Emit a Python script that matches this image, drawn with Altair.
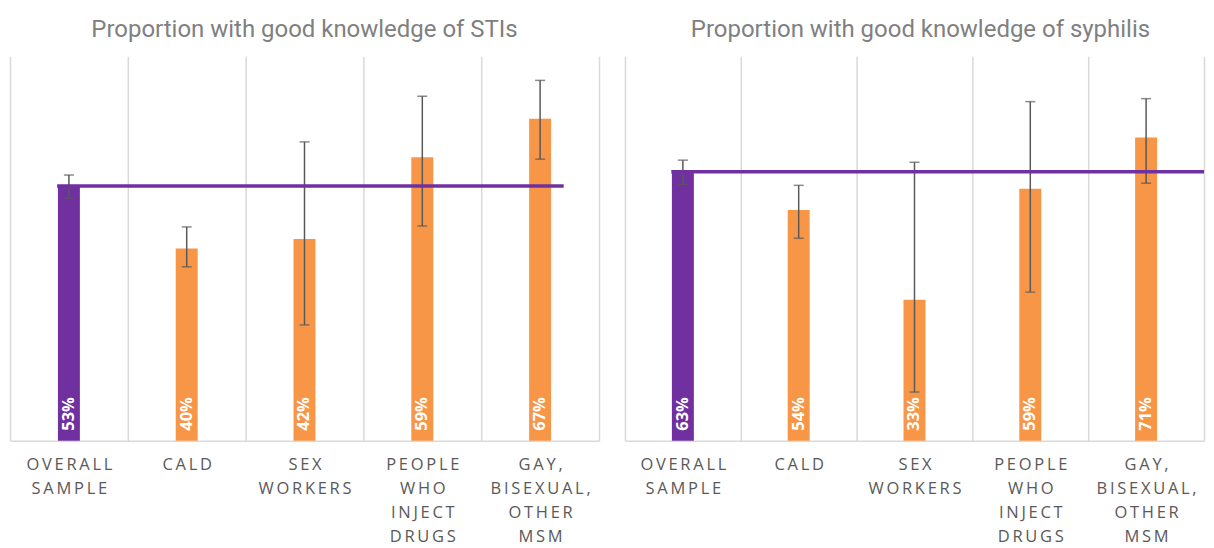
import altair as alt
import pandas as pd

categories = ["OVERALL\nSAMPLE", "CALD", "SEX\nWORKERS",
              "PEOPLE\nWHO\nINJECT\nDRUGS", "GAY,\nBISEXUAL,\nOTHER\nMSM"]
groups = ["overall", "sub", "sub", "sub", "sub"]

sti_values = [0.53, 0.40, 0.42, 0.59, 0.67]
sti_low = [0.505, 0.362, 0.241, 0.447, 0.586]
sti_high = [0.553, 0.445, 0.622, 0.717, 0.750]

syph_values = [0.63, 0.54, 0.33, 0.59, 0.71]
syph_low = [0.600, 0.474, 0.114, 0.348, 0.603]
syph_high = [0.657, 0.598, 0.652, 0.794, 0.801]

titles = ["Proportion with good knowledge of STIs",
          "Proportion with good knowledge of syphilis"]


def spaced(s):
    return "\n".join("\u2009".join(line) for line in s.split("\n"))


labels = [spaced(c) for c in categories]


def panel(values, low, high, title, ymax, width, line_end, title_dx):
    df = pd.DataFrame({"cat": labels, "grp": groups, "value": values,
                       "low": low, "high": high})
    base = alt.Chart(df)
    xenc = alt.X("cat:N", sort=labels, title=None,
                 scale=alt.Scale(paddingInner=0, paddingOuter=0),
                 axis=alt.Axis(labelAngle=0, labelExpr="split(datum.label, '\\n')",
                               labelFont="Open Sans", labelFontSize=16.5,
                               labelColor="#595959", labelLineHeight=24,
                               labelPadding=16, labelBaseline="top",
                               ticks=False, tickSize=0, tickBand="extent",
                               grid=True, gridColor="#d9d9d9", gridWidth=1.5,
                               domainColor="#d9d9d9", domainWidth=1.5,
                               labelOverlap=False))
    yscale = alt.Scale(domain=[0, ymax], nice=False)
    yenc = alt.Y("value:Q", scale=yscale, axis=None)

    bars = base.mark_bar(size=22).encode(
        x=xenc, y=yenc,
        color=alt.Color("grp:N", scale=alt.Scale(domain=["overall", "sub"],
                                                 range=["#7030A0", "#F79646"]),
                        legend=None))
    err = base.mark_rule(color="#595959", strokeWidth=1.5).encode(
        x=xenc, y=alt.Y("low:Q", scale=yscale, axis=None), y2="high:Q")
    cap_lo = base.mark_tick(color="#595959", thickness=1.5, size=10).encode(
        x=xenc, y=alt.Y("low:Q", scale=yscale, axis=None))
    cap_hi = base.mark_tick(color="#595959", thickness=1.5, size=10).encode(
        x=xenc, y=alt.Y("high:Q", scale=yscale, axis=None))
    line = base.transform_filter(alt.datum.grp == "overall").mark_rule(
        color="#7030A0", strokeWidth=3.5).encode(
        x=alt.X("cat:N", sort=labels, bandPosition=0.4),
        x2=alt.X2(datum=labels[-1], bandPosition=line_end),
        y=yenc)
    txt = base.transform_calculate(zero="0").mark_text(
        angle=270, align="left", baseline="middle", dx=10, color="white",
        fontWeight="bold", fontSize=16.5, font="Open Sans").encode(
        x=xenc, y=alt.Y("zero:Q", scale=yscale, axis=None),
        text=alt.Text("value:Q", format=".0%"))

    return alt.layer(bars, err, cap_lo, cap_hi, line, txt).properties(
        width=width, height=385,
        title=alt.TitleParams(title, font="Roboto", fontSize=24,
                              fontWeight="normal", color="#808080",
                              anchor="middle", offset=14, dx=title_dx))


left = panel(sti_values, sti_low, sti_high, titles[0], 0.8, 590, 0.70, 0)
right = panel(syph_values, syph_low, syph_high, titles[1], 0.9, 580, 1.0, 6)

chart = alt.hconcat(left, right, spacing=26).configure_view(stroke=None).properties(
    padding={"left": 2, "top": 10, "right": 0, "bottom": 0})

chart.save("out.html", embed_options={"renderer": "svg", "actions": False})
